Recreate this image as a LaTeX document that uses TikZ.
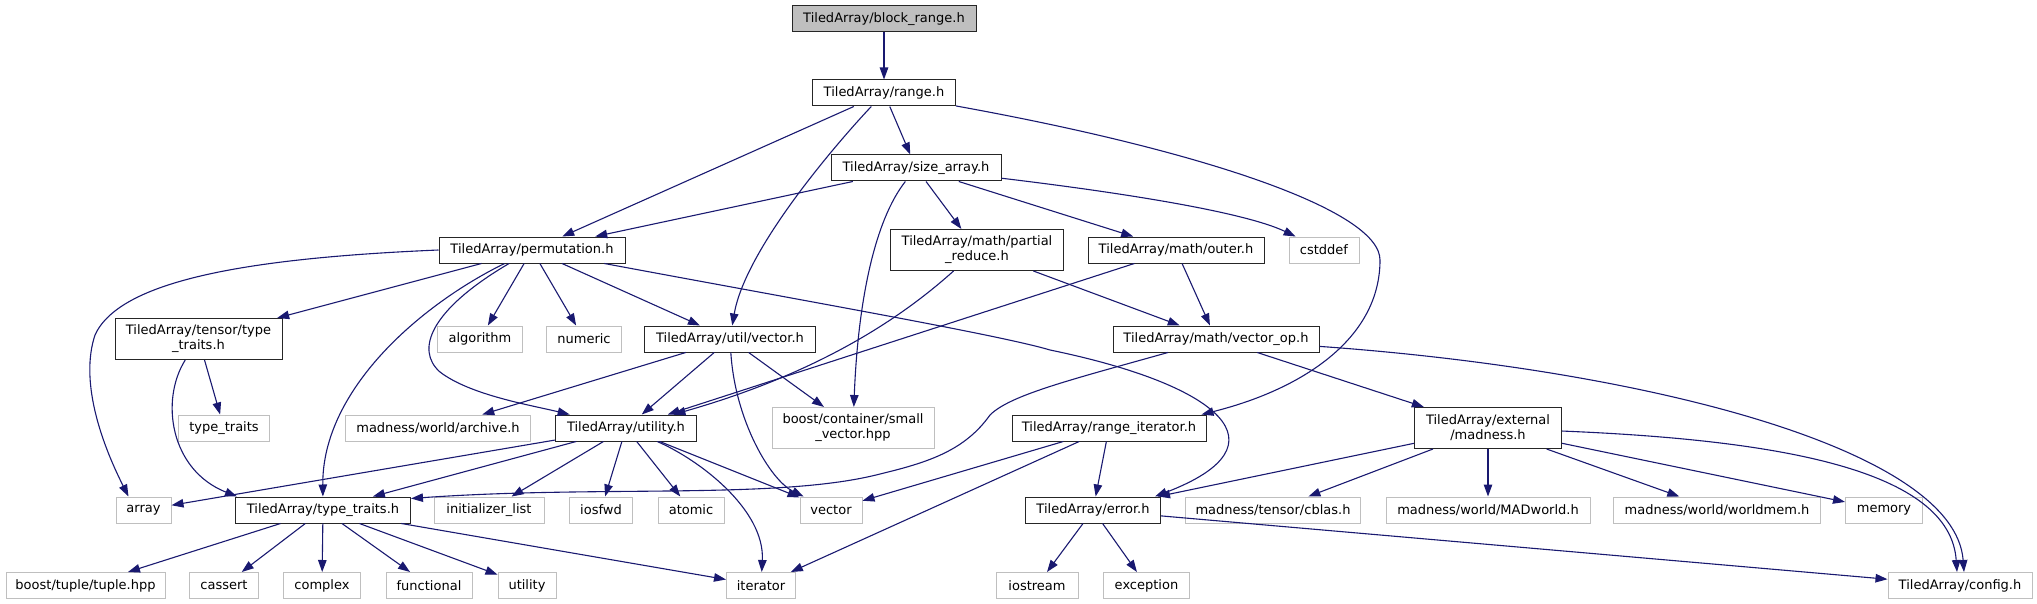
\documentclass[tikz,border=0pt]{standalone}
\usepackage{fontspec}
\setmainfont{DejaVu Sans}
\usetikzlibrary{arrows.meta,calc}
\definecolor{navy}{HTML}{191970}
\definecolor{grayborder}{HTML}{BFBFBF}
\definecolor{grayfill}{HTML}{BFBFBF}
\newcommand\fsz{\fontsize{13}{15}\selectfont}
\begin{document}
\begin{tikzpicture}[x=1pt,y=-1pt,
  box/.style={draw=black!85, line width=1pt, fill=white, inner sep=0pt, minimum height=26pt, font=\fsz, align=center},
  ext/.style={box, draw=grayborder},
  dep/.style={draw=navy, line width=1.1pt, -{Triangle[length=12pt,width=8.5pt]}}]
\useasboundingbox (0,0) rectangle (2037,604);
% row 0
\node[box, fill=grayfill, minimum width=184pt] (br) at (884,19) {TiledArray/block\_range.h};
% row 1
\node[box, minimum width=143pt] (range) at (884,93) {TiledArray/range.h};
% row 2
\node[box, minimum width=170pt] (sa) at (916,168) {TiledArray/size\_array.h};
% row 3
\node[box, minimum width=186pt] (perm) at (532,250) {TiledArray/permutation.h};
\node[box, minimum width=173pt, minimum height=41pt] (pr) at (977,250) {TiledArray/math/partial\\\_reduce.h};
\node[box, minimum width=176pt] (outer) at (1176,250) {TiledArray/math/outer.h};
\node[ext, minimum width=70pt] (cstddef) at (1324,250) {cstddef};
% row 4
\node[box, minimum width=167pt, minimum height=41pt] (ttt) at (198.5,339) {TiledArray/tensor/type\\\_traits.h};
\node[ext, minimum width=85pt] (algorithm) at (480,339) {algorithm};
\node[ext, minimum width=75pt] (numeric) at (584,339) {numeric};
\node[box, minimum width=171pt] (uvec) at (730,339) {TiledArray/util/vector.h};
\node[box, minimum width=206pt] (vop) at (1216,339) {TiledArray/math/vector\_op.h};
% row 5
\node[ext, minimum width=91pt] (stdtt) at (224,428) {type\_traits};
\node[ext, minimum width=185pt] (archive) at (438,428) {madness/world/archive.h};
\node[box, minimum width=141pt] (utility) at (626,428) {TiledArray/utility.h};
\node[ext, minimum width=162pt, minimum height=41pt] (svec) at (853,428) {boost/container/small\\\_vector.hpp};
\node[box, minimum width=194pt] (ri) at (1109,428) {TiledArray/range\_iterator.h};
\node[box, minimum width=147pt, minimum height=41pt] (madness) at (1488,428) {TiledArray/external\\/madness.h};
% row 6
\node[ext, minimum width=55pt] (array) at (143.5,510) {array};
\node[box, minimum width=175pt] (tth) at (323,510) {TiledArray/type\_traits.h};
\node[ext, minimum width=110pt] (initlist) at (489,510) {initializer\_list};
\node[ext, minimum width=63pt] (iosfwd) at (601,510) {iosfwd};
\node[ext, minimum width=66pt] (atomic) at (691,510) {atomic};
\node[ext, minimum width=62pt] (vector) at (831,510) {vector};
\node[box, minimum width=135pt] (error) at (1093,510) {TiledArray/error.h};
\node[ext, minimum width=175pt] (cblas) at (1273,510) {madness/tensor/cblas.h};
\node[ext, minimum width=204pt] (madworld) at (1488,510) {madness/world/MADworld.h};
\node[ext, minimum width=207pt] (worldmem) at (1717,510) {madness/world/worldmem.h};
\node[ext, minimum width=77pt] (memory) at (1884,510) {memory};
% row 7
\node[ext, minimum width=159pt] (tuple) at (85.5,585.5) {boost/tuple/tuple.hpp};
\node[ext, minimum width=69pt] (cassert) at (224,585.5) {cassert};
\node[ext, minimum width=77pt] (complex) at (322,585.5) {complex};
\node[ext, minimum width=86pt] (functional) at (429,585.5) {functional};
\node[ext, minimum width=58pt] (utilstd) at (527,585.5) {utility};
\node[ext, minimum width=69pt] (iterator) at (761,585.5) {iterator};
\node[ext, minimum width=82pt] (iostream) at (1037,585.5) {iostream};
\node[ext, minimum width=86pt] (exception) at (1146.5,585.5) {exception};
\node[ext, minimum width=144pt] (config) at (1960,585.5) {TiledArray/config.h};

% edges
\draw[dep] (br) -- (range);
\draw[dep] (range) -- (perm);
\draw[dep] (range) .. controls (835,145) and (745,250) .. (uvec);
\draw[dep] (range) -- (sa);
\draw[dep] (range) .. controls (1200,150) and (1380,210) .. (1380,260) .. controls (1380,340) and (1300,390) .. ([xshift=-5pt]ri.north east);
\draw[dep] (sa) -- (perm);
\draw[dep] (sa) .. controls (875,220) and (858,300) .. (svec);
\draw[dep] (sa) -- (pr);
\draw[dep] (sa) -- (outer);
\draw[dep] (sa) .. controls (1100,190) and (1240,210) .. (cstddef);
\draw[dep] (perm.west) .. controls (250,258) and (120,280) .. (95,335) .. controls (80,380) and (100,440) .. ([xshift=-15pt]array.north);
\draw[dep] (perm) -- (ttt);
\draw[dep] (perm) .. controls (420,305) and (322,390) .. (tth);
\draw[dep] (perm) .. controls (430,310) and (415,350) .. (440,372) .. controls (470,395) and (530,405) .. (utility);
\draw[dep] (perm) -- (algorithm);
\draw[dep] (perm) -- (numeric);
\draw[dep] (perm) -- (uvec);
\draw[dep] (perm) .. controls (800,300) and (1000,335) .. (1050,350) .. controls (1220,385) and (1290,445) .. ([xshift=-6pt]error.north east);
\draw[dep] (pr) .. controls (910,310) and (830,370) .. (utility);
\draw[dep] (pr) -- (vop);
\draw[dep] (outer) -- (utility);
\draw[dep] (outer) -- (vop);
\draw[dep] (ttt) -- (stdtt);
\draw[dep] (ttt) .. controls (160,400) and (170,470) .. ([xshift=2pt]tth.north west);
\draw[dep] (uvec) -- (archive);
\draw[dep] (uvec) -- (utility);
\draw[dep] (uvec) -- (svec);
\draw[dep] (uvec) .. controls (735,420) and (770,480) .. (vector);
\draw[dep] (vop) .. controls (1070,380) and (1010,395) .. (990,415) .. controls (965,450) and (930,462) .. (880,474) .. controls (780,500) and (600,485) .. ([yshift=-2pt]tth.north east);
\draw[dep] (vop) -- (madness);
\draw[dep] (vop) .. controls (1650,370) and (1955,450) .. ([xshift=4pt]config.north);
\draw[dep] (utility) -- (array);
\draw[dep] (utility) -- (tth);
\draw[dep] (utility) -- (initlist);
\draw[dep] (utility) -- (iosfwd);
\draw[dep] (utility) -- (atomic);
\draw[dep] (utility) -- (vector);
\draw[dep] (utility) .. controls (700,460) and (765,510) .. (iterator);
\draw[dep] (ri) -- (vector);
\draw[dep] (ri) -- (error);
\draw[dep] (ri) -- (iterator);
\draw[dep] (madness) -- (error);
\draw[dep] (madness) -- (cblas);
\draw[dep] (madness) -- (madworld);
\draw[dep] (madness) -- (worldmem);
\draw[dep] (madness) -- (memory);
\draw[dep] (madness) .. controls (1780,440) and (1950,470) .. ([xshift=-3pt]config.north);
\draw[dep] (tth) -- (tuple);
\draw[dep] (tth) -- (cassert);
\draw[dep] (tth) -- (complex);
\draw[dep] (tth) -- (functional);
\draw[dep] (tth) -- (utilstd);
\draw[dep] (tth) -- (iterator);
\draw[dep] (error) -- (iostream);
\draw[dep] (error) -- (exception);
\draw[dep] (error) -- (config);
\end{tikzpicture}
\end{document}
